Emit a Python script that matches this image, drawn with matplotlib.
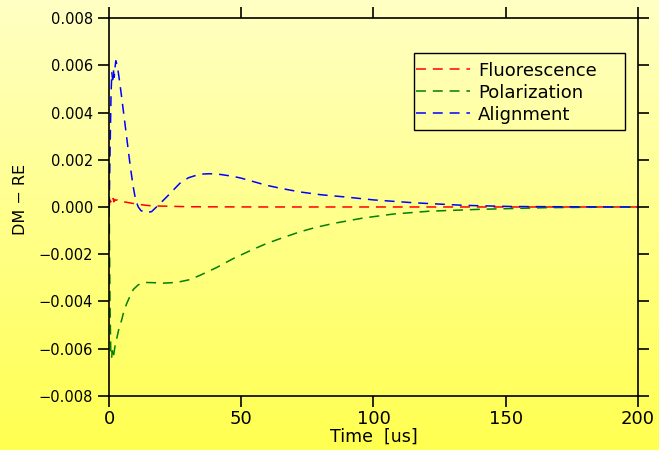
import numpy as np
import matplotlib
matplotlib.use("Agg")
import matplotlib.pyplot as plt
from matplotlib.colors import LinearSegmentedColormap
from matplotlib.patches import Rectangle

# ---- data ----
t_fluor = [0, 0.3, 0.6, 0.9, 1.2, 1.5, 1.8, 2.1, 2.5, 3.0, 4.0, 5.5, 7.0, 8.5, 10.3, 12, 14, 16, 19, 23, 30, 40, 60, 100, 150, 200]
fluorescence = [0, 0.00030, 0.00022, 0.00034, 0.00024, 0.00036, 0.00022, 0.00032, 0.00028, 0.00030, 0.00025, 0.00022,
                0.00019, 0.00016, 0.00013, 0.00010, 0.00007, 0.00005, 0.00004, 0.00003, 0.00001, 0.000005, 0, 0, 0, 0]

t_pol = [0, 0.3, 0.6, 0.9, 1.2, 1.5, 1.8, 2.2, 3.0, 3.8, 4.7, 5.6, 6.6, 7.8, 9.1, 11, 13.5, 17, 20, 25.5, 30.5, 34.3,
         40.6, 46.9, 53.2, 59.5, 66, 72, 78, 84.7, 96, 107.5, 121, 140, 165, 185, 200]
polarization = [0, -0.0040, -0.0062, -0.0064, -0.0061, -0.0064, -0.0062, -0.0059, -0.0055, -0.0051, -0.0048, -0.0044,
                -0.0041, -0.0038, -0.0035, -0.0033, -0.0032, -0.00321, -0.00323, -0.0032, -0.00308, -0.0029,
                -0.00257, -0.00219, -0.00186, -0.00155, -0.00129, -0.00106, -0.00087, -0.00070, -0.00047, -0.00030,
                -0.00018, -0.00010, -0.00003, -0.00001, 0]

t_align = [0, 0.3, 0.7, 1.0, 1.3, 1.6, 1.9, 2.2, 2.5, 2.8, 3.2, 4.05, 5.0, 6.0, 7.0, 8.0, 9.1, 10.0, 11.0, 12.0, 13.5,
           16.0, 19.2, 22.4, 26.7, 30, 34.3, 38, 42, 46.8, 50, 59.5, 64.5, 72, 80, 89.7, 100, 115, 134, 152, 170, 185, 200]
alignment = [0, 0.0022, 0.0048, 0.0057, 0.0054, 0.0058, 0.0055, 0.0059, 0.0062, 0.0061, 0.0059, 0.00523, 0.0044,
             0.0035, 0.0026, 0.0017, 0.00085, 0.0003, 0.0000, -0.00015, -0.00024, -0.00020, 0.00014, 0.0005,
             0.0010, 0.00124, 0.00139, 0.00141, 0.00138, 0.00130, 0.00122, 0.00092, 0.00080, 0.00064, 0.00052,
             0.00042, 0.00030, 0.00018, 0.00007, 0.00002, 0.00001, 0.000005, 0]

x_ticks = [0, 50, 100, 150, 200]
y_ticks = [-0.008, -0.006, -0.004, -0.002, 0.000, 0.002, 0.004, 0.006, 0.008]
y_ticklabels = ['\u22120.008', '\u22120.006', '\u22120.004', '\u22120.002', '0.000', '0.002', '0.004', '0.006', '0.008']

# ---- figure ----
plt.rcParams['font.family'] = ['DejaVu Sans']
fig = plt.figure(figsize=(6.59, 4.50), dpi=100)

# background gradient (light yellow top -> saturated yellow bottom)
bg = fig.add_axes([0, 0, 1, 1], zorder=-10)
cmap = LinearSegmentedColormap.from_list("yel", ["#FFFF50", "#FFFFC4"])
grad = np.linspace(0, 1, 256).reshape(-1, 1)
bg.imshow(grad, aspect='auto', cmap=cmap, origin='lower', extent=[0, 1, 0, 1])
bg.set_axis_off()

ax = fig.add_axes([0.1657, 0.1207, 0.8021, 0.8387])
ax.patch.set_alpha(0)

dash = (6.5, 4.5)
ax.plot(t_fluor, fluorescence, color='#FF0000', lw=1.1, dashes=dash, label='Fluorescence')
ax.plot(t_pol, polarization, color='#008000', lw=1.1, dashes=dash, label='Polarization')
ax.plot(t_align, alignment, color='#0000FF', lw=1.1, dashes=dash, label='Alignment')

ax.set_xlim(0, 200)
ax.set_ylim(-0.008, 0.008)
ax.set_xticks(x_ticks)
ax.set_yticks(y_ticks)
ax.set_yticklabels(y_ticklabels)
ax.tick_params(direction='out', length=8, width=1.2, top=True, right=True, labelsize=10.5, colors='black')
ax.tick_params(axis='x', labelsize=13, pad=2)
for s in ax.spines.values():
    s.set_linewidth(1.2)

ax.set_xlabel('Time  [us]', fontsize=12.5, labelpad=0)
ax.set_ylabel('DM \u2212 RE', fontsize=11.5, labelpad=8)
ax.yaxis.label.set_y(0.521)

# legend (frameless) with a separate box drawn around it, as in the reference
leg = ax.legend(loc='upper left', bbox_to_anchor=(0.5766, 0.8895), frameon=False,
                fontsize=13, handlelength=3.0, handletextpad=0.45, borderpad=0.1,
                labelspacing=0.22, borderaxespad=0.0)
ax.add_patch(Rectangle((0.5766, 0.704), 0.9758 - 0.5766, 0.9081 - 0.704, transform=ax.transAxes,
                       fill=False, edgecolor='black', lw=1.0, zorder=5))

fig.savefig('out.png', dpi=100)
